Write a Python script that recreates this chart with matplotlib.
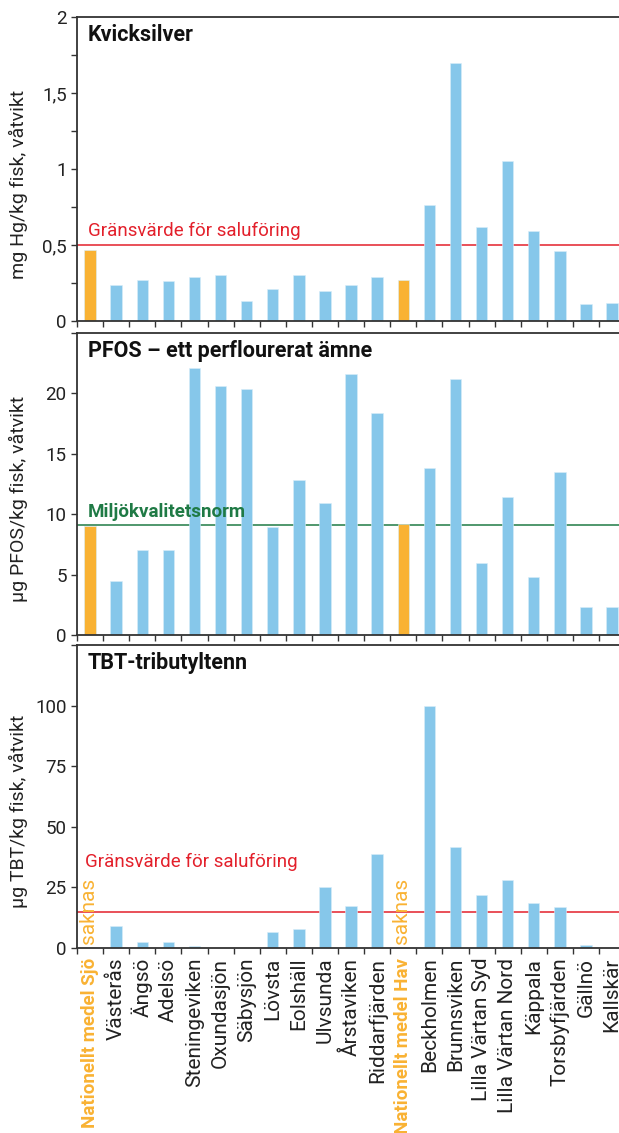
import matplotlib
matplotlib.use("Agg")
import matplotlib.pyplot as plt
import numpy as np

plt.rcParams['font.family'] = ['Roboto', 'DejaVu Sans']

# ---------------------------------------------------------------
# data
# ---------------------------------------------------------------
stationer = ["Nationellt medel Sjö", "Västerås", "Ängsö", "Adelsö", "Steningeviken",
             "Oxundasjön", "Säbysjön", "Lövsta", "Eolshäll", "Ulvsunda", "Årstaviken",
             "Riddarfjärden", "Nationellt medel Hav", "Beckholmen", "Brunnsviken",
             "Lilla Värtan Syd", "Lilla Värtan Nord", "Käppala", "Torsbyfjärden",
             "Gällnö", "Kallskär"]
nationella = [0, 12]

hg = [0.47, 0.24, 0.27, 0.26, 0.29, 0.30, 0.13, 0.21, 0.30, 0.20, 0.24,
      0.29, 0.27, 0.76, 1.70, 0.62, 1.05, 0.59, 0.46, 0.11, 0.12]
pfos = [9.0, 4.5, 7.0, 7.0, 22.1, 20.6, 20.4, 8.9, 12.8, 10.9, 21.6,
        18.4, 9.2, 13.8, 21.2, 6.0, 11.4, 4.8, 13.5, 2.3, 2.3]
tbt = [0, 9.0, 2.6, 2.6, 0.9, 0, 0, 6.5, 7.7, 25.0, 17.5,
       38.6, 0, 100, 41.6, 21.8, 28.0, 18.7, 16.8, 1.4, 0]

hg_grans = 0.5
pfos_norm = 9.1
tbt_grans = 15

hg_ticks = [0, 0.25, 0.5, 0.75, 1, 1.25, 1.5, 1.75, 2]
hg_labels = ["0", "", "0,5", "", "1", "", "1,5", "", "2"]
pfos_ticks = [0, 5, 10, 15, 20, 25]
pfos_labels = ["0", "5", "10", "15", "20", ""]
tbt_ticks = [0, 25, 50, 75, 100, 125]
tbt_labels = ["0", "25", "50", "75", "100", ""]

blue = "#86c7ea"
orange = "#f9b233"
red = "#e3202b"
green = "#1f7a45"
dark = "#333333"

x = np.arange(len(stationer))
colors = [orange if i in nationella else blue for i in x]

fig = plt.figure(figsize=(6.19, 11.33), dpi=100)
W, H = 619, 1133
left = 77 / W
width = 21 * 26.1 / W
ax1 = fig.add_axes([left, 1 - 321 / H, width, 304 / H])
ax2 = fig.add_axes([left, 1 - 635 / H, width, 302 / H])
ax3 = fig.add_axes([left, 1 - 948 / H, width, 303 / H])

panels = [
    (ax1, hg, (0, 2), hg_ticks, hg_labels, "Kvicksilver", "mg Hg/kg fisk, våtvikt"),
    (ax2, pfos, (0, 25), pfos_ticks, pfos_labels, "PFOS – ett perflourerat ämne", "µg PFOS/kg fisk, våtvikt"),
    (ax3, tbt, (0, 125), tbt_ticks, tbt_labels, "TBT-tributyltenn", "µg TBT/kg fisk, våtvikt"),
]

for ax, vals, ylim, yt, yl, title, ylabel in panels:
    ax.bar(x, vals, width=0.44, color=colors, edgecolor="#d8eef9", linewidth=0.4, zorder=2)
    ax.set_xlim(-0.5, 20.5)
    ax.set_ylim(*ylim)
    ax.set_yticks(yt)
    ax.set_yticklabels(yl)
    ax.set_xticks(np.arange(-0.5, 21, 1), minor=True)
    ax.set_xticks(x)
    ax.tick_params(axis="x", which="major", length=0)
    ax.tick_params(axis="x", which="minor", length=4, width=1, color=dark)
    ax.tick_params(axis="y", length=4, width=1, color=dark, labelsize=13.5, labelcolor="#222222")
    for s in ["left", "top", "bottom"]:
        ax.spines[s].set_color(dark)
        ax.spines[s].set_linewidth(1.3)
    ax.spines["right"].set_visible(False)
    ax.text(0.02, 0.94, title, transform=ax.transAxes, fontsize=15.5, fontweight="bold",
            ha="left", va="center", color="#111111")
    ax.set_ylabel(ylabel, fontsize=14, color="#222222")
    ax.yaxis.set_label_coords(-0.09, 0.45)

ax1.set_xticklabels([])
ax2.set_xticklabels([])

# gränsvärden
ax1.axhline(hg_grans, color=red, linewidth=1.1, zorder=1)
ax1.text(-0.08, 0.53, "Gränsvärde för saluföring", color=red, fontsize=13.5, ha="left", va="bottom")
ax2.axhline(pfos_norm, color=green, linewidth=1.1, zorder=1)
ax2.text(-0.08, 10.2, "Miljökvalitetsnorm", color=green, fontsize=13.5, fontweight="bold",
         ha="left", va="center")
ax3.axhline(tbt_grans, color=red, linewidth=1.1, zorder=1)
ax3.text(-0.19, 35.4, "Gränsvärde för saluföring", color=red, fontsize=13.5, ha="left", va="center")
for i in nationella:
    ax3.text(i - 0.05, 1.8, "saknas", color=orange, fontsize=15, rotation=90,
             ha="center", va="bottom")

ax3.set_xticklabels(stationer, rotation=90, fontsize=15, color="#222222", va="top")
ax3.tick_params(axis="x", which="major", pad=7)
for i, lab in enumerate(ax3.get_xticklabels()):
    if i in nationella:
        lab.set_color(orange)
        lab.set_fontweight("bold")
        lab.set_fontsize(13.5)

fig.savefig("out.png", dpi=100)
